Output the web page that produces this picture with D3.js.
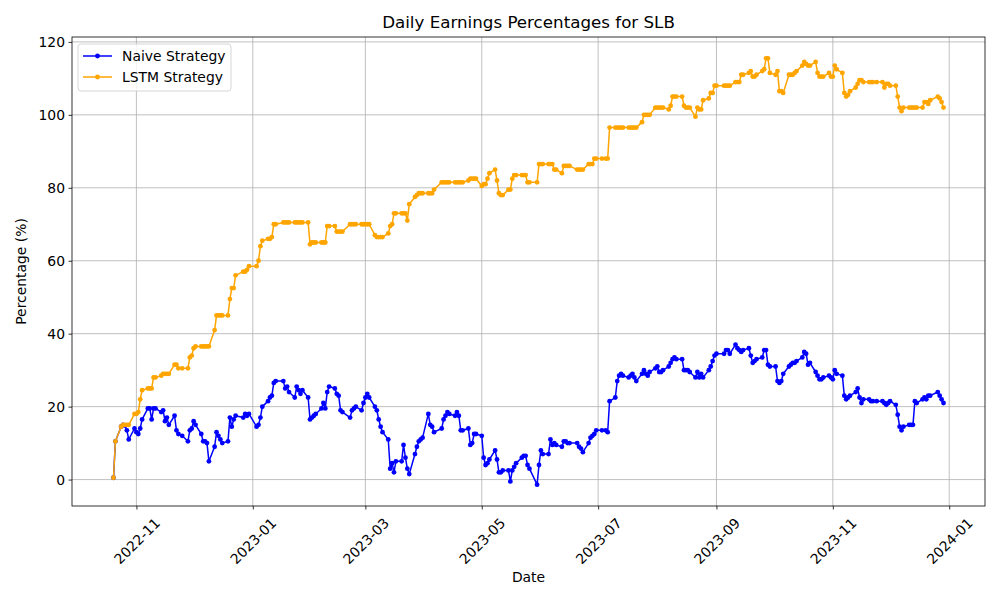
<!DOCTYPE html>
<html>
<head>
<meta charset="utf-8">
<script src="https://cdn.jsdelivr.net/npm/d3@7"></script>
<style>
    body { margin: 0; background: #fff; }
    text { font-family: "DejaVu Sans", sans-serif; }
</style>
</head>
<body>
<div id="chart"></div>
<script>
const startDate = '2022-10-20',
    endDate = '2023-12-29';

const holidays = ['2022-11-24', '2022-12-26', '2023-01-02', '2023-01-16', '2023-02-20', '2023-04-07',
    '2023-05-29', '2023-06-19', '2023-07-04', '2023-09-04', '2023-11-23', '2023-12-25'];

// one line per trading week
const naiveValues = [
    0.5, 10.5,
    14.5, 15, 14.8, 13.5, 11,
    14, 13, 12.5, 14, 16.5,
    19.5, 19.5, 16.5, 19.5, 19.5,
    18.5, 19, 16, 17, 15,
    17.5, 13.5, 12.5, 12,
    10.5, 13.5, 14, 16, 15,
    12.5, 10.5, 10.5, 10, 5,
    9, 13, 12, 11, 10,
    10.5, 17, 14.5, 16.5, 17.5,
    17, 18, 17.5, 18,
    14.5, 15, 17, 20,
    21.5, 22.5, 23, 26.5, 27,
    27, 25, 25.5, 24,
    22.5, 25.5, 24.5, 23.5, 24.5,
    22.5, 16.5, 17, 17.5, 18,
    19.5, 21, 19.5, 24, 25.5,
    25, 23.5, 23, 19, 18.5,
    17, 19, 19.5, 20,
    19, 21, 22.5, 23.5, 22.5,
    20, 19, 16.5, 14.5, 13,
    11, 3, 4.5, 2, 5,
    5, 9.5, 6, 3, 1.5,
    7, 9, 10.5, 11, 11.5,
    18, 15, 14.5, 13,
    14, 16.5, 17.5, 18.5, 18,
    17.5, 18.5, 17.5, 13.5, 13.5,
    14, 9.5, 10, 12.5, 12.5,
    12, 6, 4, 4.5, 5.5,
    8, 5.5, 2, 2, 2.5,
    2.5, -0.5, 2.5, 3.5, 4.5,
    6, 6.5, 6.5, 4, 3,
    -1.4, 4, 8, 7,
    7, 11, 9.5, 10, 9.5,
    9, 10.5, 10.5, 10, 10,
    10, 9, 8.5, 7.5,
    10, 11.5, 12, 12.5, 13.5,
    13.5, 13.5, 13, 21.5,
    22.5, 27, 28.5, 29, 28.5,
    28, 28.5, 29, 28, 27,
    29, 30, 29, 28.5, 29.5,
    30.5, 31, 29.5, 29.5, 30,
    31, 32, 33, 33.5, 33,
    33, 30, 30, 30, 29.5,
    28, 29.5, 28, 29, 28,
    30, 31, 32.5, 34, 34.5,
    34.5, 35.5, 35.5, 34.5,
    37, 36, 35.5, 35, 35.5,
    36, 34, 32, 32.5, 33,
    33.5, 35.5, 35.5, 31.5, 31,
    31, 27, 26.5, 27, 29,
    31, 31.5, 32, 32, 32.5,
    33.5, 35, 34.5, 31.5, 32,
    29.5, 28.5, 27.5, 27.5, 28,
    28.5, 28, 27.5, 30, 29,
    28.5, 23, 22, 22.5, 23,
    24, 25, 22.5, 21, 22,
    22, 21.5, 21.5, 21.5,
    21.5, 21, 20.5, 21, 21.5,
    20.5, 17.8, 14.5, 13.5, 14.5,
    15, 15, 15, 21.5, 21,
    22, 22.5, 22, 23, 23,
    24, 23, 22, 21
];

const lstmValues = [
    0.5, 10.5,
    14.5, 15, 15, 15, 15,
    18, 18, 18.5, 22, 24.5,
    25, 25, 25, 28, 28,
    28.5, 29, 29, 29, 29,
    31.5, 31.5, 30.5, 30.5,
    30.5, 33.5, 34, 36, 36.5,
    36.5, 36.5, 36.5, 36.5, 36.5,
    41, 45, 45, 45, 45,
    45, 49.5, 52.5, 52.5, 56,
    57, 57, 57.5, 58.5,
    58.5, 60, 64, 65.5,
    66, 66, 66.5, 70, 70,
    70.5, 70.5, 70.5, 70.5,
    70.5, 70.5, 70.5, 70.5, 70.5,
    70.5, 64.5, 65, 65, 65,
    65, 65, 65, 69.5, 69.5,
    69.5, 68, 68, 68, 68,
    70, 70, 70, 70,
    70, 70, 70, 70, 70,
    67, 66.5, 66.5, 66.5, 66.5,
    67.5, 69.5, 70, 73, 73,
    73, 73, 73, 71, 75.5,
    77.5, 78, 78.5, 78.5, 78.5,
    78.5, 78.5, 78.5, 79.5,
    81.5, 81.5, 81.5, 81.5, 81.5,
    81.5, 81.5, 81.5, 81.5, 81.5,
    82, 82.5, 82.5, 82.5, 82.5,
    80.5, 81, 81, 82.5, 84,
    85, 82, 78.5, 78, 78,
    79.5, 79.5, 82.5, 83.5, 83.5,
    83.5, 83.5, 83.5, 81.5, 81.5,
    81.5, 86.5, 86.5, 86.5,
    86.5, 86.5, 86.5, 85, 85,
    84, 86, 86, 86, 86,
    85, 85, 85, 85,
    86.5, 86.5, 86.5, 88, 88,
    88, 88, 88, 96.5,
    96.5, 96.5, 96.5, 96.5, 96.5,
    96.5, 96.5, 96.5, 96.5, 96.5,
    98, 100, 100, 100, 100,
    102, 102, 102, 102, 102,
    101.5, 102.5, 105, 105, 105,
    105, 102.5, 102, 102, 102,
    99.5, 102, 101.5, 101.5, 104,
    104.5, 106, 106, 108, 108,
    108, 108, 108, 108,
    109, 109, 109, 111, 111,
    111.5, 112, 110.5, 110.5, 111,
    112, 112.5, 115.5, 115.5, 111.5,
    111, 112, 106.5, 106.5, 106,
    111, 111, 111, 111.5, 112,
    113.5, 114.5, 114, 113.5, 113.5,
    114.5, 111.5, 110.5, 110.5, 110.5,
    111.5, 110.5, 110.5, 113.5, 112.5,
    111.5, 106, 105, 105.5, 106.5,
    107.5, 108.5, 109.5, 109.5, 109,
    109, 109, 109, 109,
    109, 107.5, 108.5, 108.5, 108,
    108, 105, 102, 101, 102,
    102, 102, 102, 102, 102,
    102, 103.5, 103.5, 103, 104,
    105, 104.5, 103.5, 102
];

const xTickLabels = ['2022-11', '2023-01', '2023-03', '2023-05', '2023-07', '2023-09', '2023-11', '2024-01'];
const yTickValues = [0, 20, 40, 60, 80, 100, 120];

const parseDay = d3.timeParse('%Y-%m-%d'),
    formatDay = d3.timeFormat('%Y-%m-%d'),
    parseMonth = d3.timeParse('%Y-%m');

const tradingDays = d3.timeDay
    .range(parseDay(startDate), d3.timeDay.offset(parseDay(endDate), 1))
    .filter(d => d.getDay() !== 0 && d.getDay() !== 6 && !holidays.includes(formatDay(d)));

if (tradingDays.length !== naiveValues.length || tradingDays.length !== lstmValues.length) {
    console.error('length mismatch', tradingDays.length, naiveValues.length, lstmValues.length);
}

const n = Math.min(tradingDays.length, naiveValues.length, lstmValues.length);
const series = [
    {name: 'Naive Strategy', color: 'blue', values: naiveValues},
    {name: 'LSTM Strategy', color: 'orange', values: lstmValues}
].map(s => ({...s, data: d3.range(n).map(i => ({date: tradingDays[i], value: s.values[i]}))}));

showLineChart(series);

function showLineChart(series) {
    const W = 1000, H = 600;
    const margin = {top: 37, right: 15, bottom: 94, left: 72};
    const width = W - margin.left - margin.right,
        height = H - margin.top - margin.bottom;

    const svg = d3.select('#chart').append('svg')
        .attr('width', W)
        .attr('height', H);

    const g = svg.append('g')
        .attr('transform', `translate(${margin.left}, ${margin.top})`);

    const allPoints = series.flatMap(s => s.data);
    const [x0, x1] = d3.extent(allPoints, d => d.date);
    const xPad = (x1 - x0) * 0.05;
    const [y0, y1] = d3.extent(allPoints, d => d.value);
    const yPad = (y1 - y0) * 0.05;

    const xScale = d3.scaleTime()
        .domain([new Date(+x0 - xPad), new Date(+x1 + xPad)])
        .range([0, width]);

    const yScale = d3.scaleLinear()
        .domain([y0 - yPad, y1 + yPad])
        .range([height, 0]);

    const xTicks = xTickLabels.map(parseMonth);

    // grid
    g.append('g').selectAll('line')
        .data(xTicks)
        .enter().append('line')
        .attr('x1', d => xScale(d)).attr('x2', d => xScale(d))
        .attr('y1', 0).attr('y2', height)
        .attr('stroke', '#b0b0b0').attr('stroke-width', 0.8);

    g.append('g').selectAll('line')
        .data(yTickValues)
        .enter().append('line')
        .attr('x1', 0).attr('x2', width)
        .attr('y1', d => yScale(d)).attr('y2', d => yScale(d))
        .attr('stroke', '#b0b0b0').attr('stroke-width', 0.8);

    const line = d3.line()
        .x(d => xScale(d.date))
        .y(d => yScale(d.value));

    series.forEach(s => {
        g.append('path')
            .datum(s.data)
            .attr('fill', 'none')
            .attr('stroke', s.color)
            .attr('stroke-width', 1.5)
            .attr('stroke-linejoin', 'round')
            .attr('d', line);

        g.append('g').selectAll('circle')
            .data(s.data)
            .enter().append('circle')
            .attr('cx', d => xScale(d.date))
            .attr('cy', d => yScale(d.value))
            .attr('r', 2.4)
            .attr('fill', s.color);
    });

    const xAxis = d3.axisBottom(xScale)
        .tickValues(xTicks)
        .tickFormat(d3.timeFormat('%Y-%m'))
        .tickSizeOuter(0)
        .tickSize(3.5)
        .tickPadding(3.5);

    const yAxis = d3.axisLeft(yScale)
        .tickValues(yTickValues)
        .tickSizeOuter(0)
        .tickSize(3.5)
        .tickPadding(3.5);

    const xAxisGroup = g.append('g')
        .attr('class', 'axis x-axis')
        .attr('transform', `translate(0, ${height})`)
        .call(xAxis);

    xAxisGroup.selectAll('text')
        .attr('font-size', 13.9)
        .attr('fill', '#000')
        .attr('dy', null)
        .attr('y', 0)
        .attr('text-anchor', 'middle')
        .attr('dominant-baseline', 'central')
        .attr('transform', 'translate(0, 35) rotate(-45)');

    const yAxisGroup = g.append('g')
        .attr('class', 'axis y-axis')
        .call(yAxis);

    yAxisGroup.selectAll('text')
        .attr('font-size', 13.9)
        .attr('fill', '#000');

    g.selectAll('.axis .domain').remove();
    g.selectAll('.axis line').attr('stroke', '#000').attr('stroke-width', 0.8);

    g.append('rect')
        .attr('width', width)
        .attr('height', height)
        .attr('fill', 'none')
        .attr('stroke', '#000')
        .attr('stroke-width', 0.8);

    svg.append('text')
        .attr('x', margin.left + width / 2)
        .attr('y', 28)
        .attr('text-anchor', 'middle')
        .attr('font-size', 16.7)
        .text('Daily Earnings Percentages for SLB');

    svg.append('text')
        .attr('x', margin.left + width / 2)
        .attr('y', 582)
        .attr('text-anchor', 'middle')
        .attr('font-size', 13.9)
        .text('Date');

    svg.append('text')
        .attr('transform', `translate(26, ${margin.top + height / 2}) rotate(-90)`)
        .attr('text-anchor', 'middle')
        .attr('font-size', 13.9)
        .text('Percentage (%)');

    // legend
    const legend = svg.append('g')
        .attr('transform', 'translate(78, 44)');

    legend.append('rect')
        .attr('width', 153)
        .attr('height', 47)
        .attr('rx', 3)
        .attr('fill', 'rgba(255,255,255,0.8)')
        .attr('stroke', '#cccccc')
        .attr('stroke-width', 0.8);

    series.forEach((s, i) => {
        const row = legend.append('g')
            .attr('transform', `translate(0, ${12 + i * 21})`);
        row.append('line')
            .attr('x1', 5).attr('x2', 34)
            .attr('stroke', s.color).attr('stroke-width', 1.5);
        row.append('circle')
            .attr('cx', 19.5).attr('r', 2.4)
            .attr('fill', s.color);
        row.append('text')
            .attr('x', 44)
            .attr('dy', '0.35em')
            .attr('font-size', 13.9)
            .text(s.name);
    });
}
</script>
</body>
</html>
